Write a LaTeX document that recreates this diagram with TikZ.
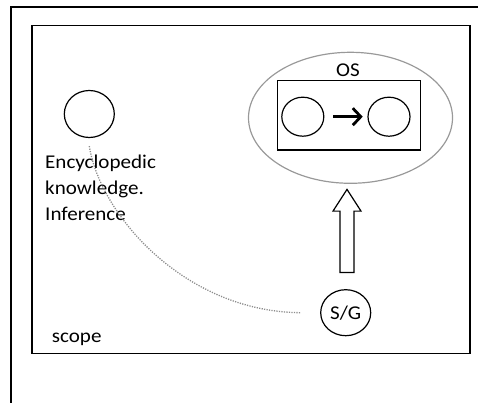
\documentclass[tikz,border=0pt]{standalone}
\usepackage{fontspec}
\setmainfont{Carlito}
\usetikzlibrary{arrows.meta,shapes.geometric,positioning}

\tikzset{
  frame/.style={line width=1.3pt},
  blob/.style={draw, ellipse, line width=1.2pt, inner sep=0pt},
  txt/.style={font=\fontsize{19.5}{25.85}\selectfont, xscale=1.08},
  lbl/.style={txt, inner sep=0pt},
}

\begin{document}
\begin{tikzpicture}[x=1pt,y=-1pt]
\useasboundingbox (0,0) rectangle (478,403);
% page frame and scope frame
\draw[frame] (478,7) -- (11,7) -- (11,403);
\draw[frame] (32,25.3) rectangle (470,353.3);

% encyclopedic knowledge
\node[blob, minimum width=50pt, minimum height=47pt] (ek) at (89.3,114) {};
\node[lbl, anchor=base west, align=left] (ektext) at (45,220.7)
  {Encyclopedic\\knowledge.\\Inference};

% OS: two states in a box, inside an ellipse
\node[draw, ellipse, gray!80, line width=1.2pt, minimum width=204pt, minimum height=131pt] (os) at (350.5,117.8) {};
\node[draw, line width=1.4pt, minimum width=143.4pt, minimum height=69.3pt] (osbox) at (349,115.3) {};
\node[lbl, anchor=base] (oslabel) at (348,76.5) {OS};
\node[blob, minimum width=42pt, minimum height=39pt] (src) at (302.8,116.7) {};
\node[blob, minimum width=42pt, minimum height=39pt] (tgt) at (389,116.7) {};
\draw[line width=2.8pt, -{Straight Barb[length=8pt,width=17pt]}, shorten <=8.7pt, shorten >=4.7pt] (src) -- (tgt);

% S/G and the block arrow up to OS
\node[blob, txt, minimum width=46.3pt, minimum height=46pt] (sg) at (345.7,312.7) {S/G};
\draw[line width=1.2pt] ([xshift=8.3pt,yshift=16.7pt]sg.north)
  -- ++(0,-61.3) -- ++(7,0) -- ++(-14,-21.7) -- ++(-14,21.7) -- ++(7,0) -- ++(0,61.3) -- cycle;

% dotted link between knowledge and S/G
\draw[gray!90, line width=1.3pt, dash pattern=on 1.2pt off 1.3pt]
  ([yshift=-8pt]ek.south) .. controls (100,215) and (185,312) .. ([xshift=-19pt]sg.west);

\node[lbl, anchor=base west] (scope) at (51.7,342.3) {scope};
\end{tikzpicture}
\end{document}
